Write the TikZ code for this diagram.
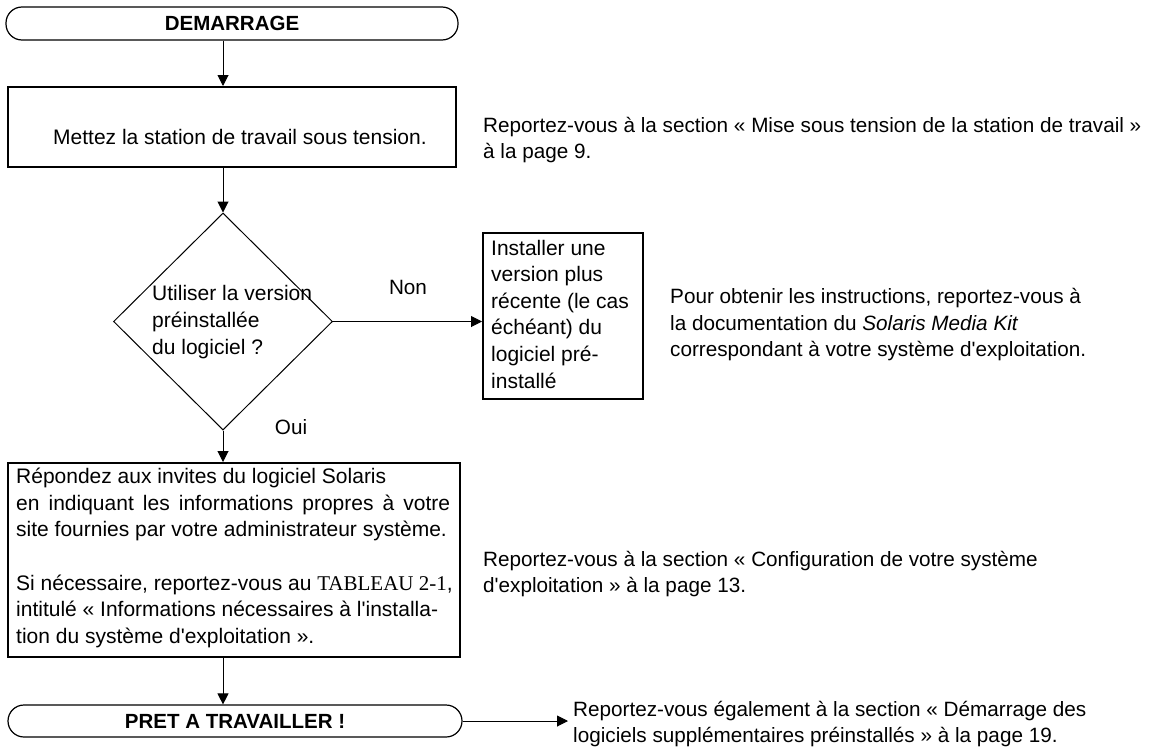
\documentclass[tikz,border=0pt]{standalone}
\usepackage{fontspec}
\setmainfont{Liberation Sans}
\newfontfamily\serifface{Liberation Serif}
\usetikzlibrary{arrows.meta,shapes.geometric}
\newcommand\apos{\textquotesingle}
\begin{document}
\begin{tikzpicture}[x=1pt,y=-1pt,
  arr/.style={-{Triangle[length=11pt,width=11pt]},line width=1pt},
  txt/.style={font=\fontsize{20.7}{26.5}\selectfont,align=left,inner sep=0pt,anchor=west},
  boxtxt/.style={font=\fontsize{21}{26.6}\selectfont,align=left,inner sep=0pt,anchor=west},
  lbl/.style={font=\fontsize{20.7}{24}\selectfont,inner sep=0pt},
  stadium/.style={draw,line width=1.2pt,rounded corners=16pt,inner sep=0pt,font=\fontsize{20.5}{24}\selectfont\bfseries},
  boxthick/.style={draw,line width=2pt,inner sep=0pt},
]
\useasboundingbox (0,0) rectangle (1161,747);
\fill[white] (0,0) rectangle (1161,747);

% shapes
\node[stadium,minimum width=452pt,minimum height=33pt] (start) at (232,23.5) {DEMARRAGE};
\node[boxthick,minimum width=448pt,minimum height=80pt] (b1) at (232,127) {};
\node[boxtxt] (t1) at (53,137) {Mettez la station de travail sous tension.};
\node[draw,diamond,line width=1pt,minimum width=219pt,minimum height=217pt,inner sep=0pt] (d) at (223,321.5) {};
\node[boxtxt] (td) at (152,322) {Utiliser la version\\ préinstallée\\ du logiciel ?};
\node[boxthick,minimum width=160pt,minimum height=166pt] (b2) at (563,316) {};
\node[boxtxt] (tb2) at (491,314) {Installer une\\ version plus\\ récente (le cas\\ échéant) du\\ logiciel pré-\\ installé};
\node[boxthick,minimum width=452pt,minimum height=194pt] (b3) at (234,560) {};
\node[boxtxt] (tb3) at (16,558) {Répondez aux invites du logiciel Solaris\\
\makebox[434pt][s]{en indiquant les informations propres à votre}\\
site fournies par votre administrateur système.\\[26.6pt]
Si nécessaire, reportez-vous au {\serifface TABLEAU 2-1},\\
intitulé « Informations nécessaires à l\apos installa-\\
tion du système d\apos exploitation ».};
\node[stadium,minimum width=454pt,minimum height=32pt] (end) at (235,721) {PRET A TRAVAILLER !};

% side texts
\node[txt] (r1) at (483,140) {Reportez-vous à la section « Mise sous tension de la station de travail »\\ à la page 9.};
\node[txt] (r2) at (670,325) {Pour obtenir les instructions, reportez-vous à\\ la documentation du \textit{Solaris Media Kit}\\ correspondant à votre système d\apos exploitation.};
\node[txt] (r3) at (483,574) {Reportez-vous à la section « Configuration de votre système\\ d\apos exploitation » à la page 13.};
\node[txt] (r4) at (573,724) {Reportez-vous également à la section « Démarrage des\\ logiciels supplémentaires préinstallés » à la page 19.};
\node[lbl] (non) at (408,287) {Non};
\node[lbl] (oui) at (291,427) {Oui};
\coordinate (a4) at (568,721);

% connectors
\draw[arr] (start.south -| d.north) -- (b1.north -| d.north);
\draw[arr] (b1.south -| d.north) -- (d.north);
\draw[arr] (d.east) -- (d.east -| b2.west);
\draw[arr] (d.south) -- (b3.north -| d.south);
\draw[arr] (b3.south -| d.south) -- (end.north -| d.south);
\draw[arr] (end.east) -- (a4);
\end{tikzpicture}
\end{document}
